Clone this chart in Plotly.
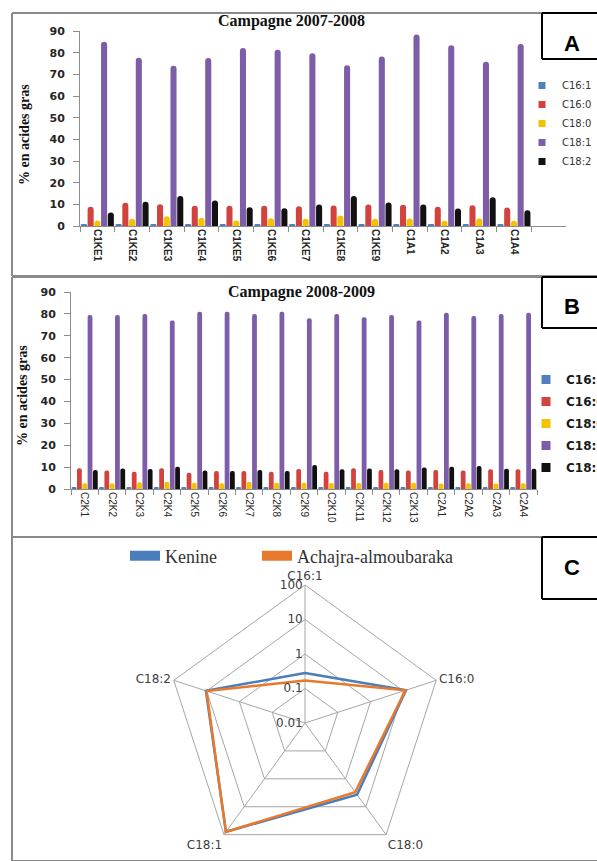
import plotly.graph_objects as go

W, H = 597, 861

# ---------------- data ----------------
series_names = ["C16:1", "C16:0", "C18:0", "C18:1", "C18:2"]
series_colors = ["#4f81bd", "#d2433e", "#f5c200", "#7d5ca8", "#111111"]

cats_A = ["C1KE1", "C1KE2", "C1KE3", "C1KE4", "C1KE5", "C1KE6", "C1KE7",
          "C1KE8", "C1KE9", "C1A1", "C1A2", "C1A3", "C1A4"]
c16_1_A = [0.6, 0.7, 0.6, 0.6, 0.7, 0.6, 0.6, 0.7, 0.6, 0.6, 0.6, 0.7, 0.6]
c16_0_A = [8.9, 10.7, 10.0, 9.4, 9.4, 9.4, 9.1, 9.5, 9.9, 9.8, 8.9, 9.6, 8.5]
c18_0_A = [2.5, 3.3, 4.5, 3.8, 2.5, 3.6, 3.3, 4.8, 3.3, 3.5, 2.4, 3.5, 2.4]
c18_1_A = [85.0, 77.7, 74.0, 77.5, 82.2, 81.3, 79.7, 74.2, 78.2, 88.4, 83.4, 75.8, 84.0]
c18_2_A = [6.2, 11.2, 13.8, 11.8, 8.7, 8.2, 9.9, 13.8, 10.8, 9.9, 8.1, 13.3, 7.3]

cats_B = ["C2K1", "C2K2", "C2K3", "C2K4", "C2K5", "C2K6", "C2K7", "C2K8", "C2K9",
          "C2K10", "C2K11", "C2K12", "C2K13", "C2A1", "C2A2", "C2A3", "C2A4"]
c16_1_B = [0.9, 0.7, 0.7, 0.8, 0.7, 0.7, 0.9, 0.7, 0.7, 0.7, 0.7, 0.7, 0.7, 0.7, 0.7, 0.7, 0.7]
c16_0_B = [9.5, 8.4, 7.9, 9.5, 7.4, 8.2, 8.2, 7.9, 9.1, 7.9, 9.5, 8.7, 8.4, 8.7, 8.4, 9.0, 9.0]
c18_0_B = [2.6, 2.6, 3.1, 3.3, 2.9, 2.6, 3.3, 2.9, 2.8, 2.7, 2.7, 2.9, 2.9, 2.5, 2.6, 2.5, 2.6]
c18_1_B = [79.5, 79.5, 80.0, 77.0, 81.0, 81.0, 80.0, 81.0, 78.0, 80.0, 78.5, 79.5, 77.0,
           80.5, 79.0, 80.0, 80.5]
c18_2_B = [8.7, 9.4, 9.1, 10.2, 8.4, 8.2, 8.7, 8.2, 11.0, 9.0, 9.4, 9.0, 9.8, 10.2, 10.5, 9.3, 9.3]

acids_C = ["C16:1", "C16:0", "C18:0", "C18:1", "C18:2"]
kenine_C = [0.28, 12.0, 3.7, 79.0, 10.5]
achajra_C = [0.17, 11.5, 3.0, 80.0, 10.0]

y_ticks = [0, 10, 20, 30, 40, 50, 60, 70, 80, 90]
r_ticks = [0.01, 0.1, 1, 10, 100]
r_ticklabels = ["0.01", "0.1", "1", "10", "100"]


def fx(px):
    return px / W


def fy(py):
    return 1 - py / H


fig = go.Figure()

series_A = [c16_1_A, c16_0_A, c18_0_A, c18_1_A, c18_2_A]
series_B = [c16_1_B, c16_0_B, c18_0_B, c18_1_B, c18_2_B]

for name, col, vals in zip(series_names, series_colors, series_A):
    fig.add_trace(go.Bar(x=cats_A, y=vals, name=name, marker=dict(color=col, cornerradius=3,
                         line=dict(width=0)), xaxis="x", yaxis="y", showlegend=False))
    fig.add_trace(go.Scatter(x=[None], y=[None], mode="markers", name=name,
                             marker=dict(symbol="square", size=7, color=col),
                             xaxis="x", yaxis="y", legend="legend"))

for name, col, vals in zip(series_names, series_colors, series_B):
    fig.add_trace(go.Bar(x=cats_B, y=vals, name=name, marker=dict(color=col, cornerradius=3,
                         line=dict(width=0)), xaxis="x2", yaxis="y2", showlegend=False))
    fig.add_trace(go.Scatter(x=[None], y=[None], mode="markers", name=name,
                             marker=dict(symbol="square", size=9, color=col),
                             xaxis="x2", yaxis="y2", legend="legend2",
                             legendgroup="B" + name))

kc, ac = "#4a7ebb", "#e8792c"
fig.add_trace(go.Scatterpolar(r=kenine_C + kenine_C[:1], theta=acids_C + acids_C[:1],
                              mode="lines", name="Kenine", line=dict(color=kc, width=2.5),
                              subplot="polar", showlegend=False))
fig.add_trace(go.Scatterpolar(r=achajra_C + achajra_C[:1], theta=acids_C + acids_C[:1],
                              mode="lines", name="Achajra-almoubaraka",
                              line=dict(color=ac, width=2.5),
                              subplot="polar", showlegend=False))
for name, col, lg in [("Kenine", kc, "legend3"), ("Achajra-almoubaraka", ac, "legend4")]:
    fig.add_trace(go.Scatterpolar(r=[None], theta=[None], mode="lines", name=name,
                                  line=dict(color=col, width=12), subplot="polar",
                                  legend=lg))

axis_grey = "#8c8c8c"
tick_font_y = dict(family="DejaVu Sans", size=11, color="#262626", weight="bold")
tick_font_x = dict(family="Liberation Sans", size=10, color="#262626", weight="bold")

R = 138
cy = H - R
cx = 305

leg3_font = dict(family="Liberation Serif", size=18, color="#333333")

fig.update_layout(
    width=W, height=H, autosize=False,
    margin=dict(l=0, r=0, t=0, b=0, pad=0, autoexpand=False),
    paper_bgcolor="white", plot_bgcolor="rgba(0,0,0,0)",
    barmode="group", bargap=0.03, bargroupgap=0.1,
    xaxis=dict(domain=[fx(80), fx(566)], anchor="y", type="category", range=[-0.5, 13.5],
               showline=True, linecolor=axis_grey, linewidth=1, ticks="outside",
               tickson="boundaries", ticklen=5, tickcolor=axis_grey, tickangle=90,
               tickfont=tick_font_x, showgrid=False, zeroline=False, automargin=False),
    yaxis=dict(domain=[fy(226), fy(31)], anchor="x", range=[0, 90], tickvals=y_ticks,
               showline=True, linecolor=axis_grey, linewidth=1, ticks="outside", ticklen=6,
               tickcolor=axis_grey, tickfont=tick_font_y, showgrid=False, zeroline=False,
               ticklabelstandoff=6, automargin=False),
    xaxis2=dict(domain=[fx(71), fx(537)], anchor="y2", type="category", range=[-0.5, 16.5],
                showline=True, linecolor=axis_grey, linewidth=1, ticks="outside",
                tickson="boundaries", ticklen=5, tickcolor=axis_grey, tickangle=90,
                tickfont=dict(family="Liberation Sans", size=10, color="#262626"),
                showgrid=False, zeroline=False, automargin=False),
    yaxis2=dict(domain=[fy(489), fy(292)], anchor="x2", range=[0, 90], tickvals=y_ticks,
                showline=True, linecolor=axis_grey, linewidth=1, ticks="outside", ticklen=6,
                tickcolor=axis_grey, tickfont=tick_font_y, showgrid=False, zeroline=False,
                ticklabelstandoff=6, automargin=False),
    polar=dict(
        domain=dict(x=[fx(cx - R), fx(cx + R)], y=[0, fy(H - 2 * R)]),
        bgcolor="rgba(0,0,0,0)", gridshape="linear",
        radialaxis=dict(type="log", range=[-2, 2], tickvals=r_ticks, ticktext=r_ticklabels,
                        angle=90, tickangle=90, side="counterclockwise", showline=False,
                        ticks="", gridcolor="#a6a6a6", gridwidth=1,
                        tickfont=dict(family="DejaVu Sans", size=12, color="#404040")),
        angularaxis=dict(type="category", categoryarray=acids_C, direction="clockwise",
                         rotation=90, showline=True, linecolor="#a6a6a6", linewidth=1,
                         gridcolor="#a6a6a6", ticks="",
                         tickfont=dict(family="DejaVu Sans", size=12, color="#404040")),
    ),
    legend=dict(x=fx(522), y=fy(71), xanchor="left", yanchor="top",
                font=dict(family="DejaVu Sans", size=10, color="#333333"),
                bgcolor="rgba(0,0,0,0)", itemwidth=30, tracegroupgap=0),
    legend2=dict(x=fx(526), y=fy(365), xanchor="left", yanchor="top",
                 font=dict(family="DejaVu Sans", size=12, color="#1a1a1a", weight="bold"),
                 bgcolor="rgba(0,0,0,0)", itemwidth=30, tracegroupgap=3),
    legend3=dict(x=fx(125), y=fy(556), xanchor="left", yanchor="middle", orientation="h",
                 font=leg3_font, bgcolor="rgba(0,0,0,0)", itemwidth=30),
    legend4=dict(x=fx(257), y=fy(556), xanchor="left", yanchor="middle", orientation="h",
                 font=leg3_font, bgcolor="rgba(0,0,0,0)", itemwidth=30),
    showlegend=True,
)

annotations = [
    dict(text="<b>Campagne 2007-2008</b>", x=fx(291), y=fy(21),
         font=dict(family="Liberation Serif", size=16, color="#111111")),
    dict(text="<b>Campagne 2008-2009</b>", x=fx(301), y=fy(292),
         font=dict(family="Liberation Serif", size=16, color="#111111")),
    dict(text="<b>% en acides gras</b>", x=fx(24), y=fy(135), textangle=-90,
         font=dict(family="Liberation Serif", size=14, color="#111111")),
    dict(text="<b>% en acides gras</b>", x=fx(22), y=fy(396), textangle=-90,
         font=dict(family="Liberation Serif", size=14, color="#111111")),
]
for letter, py in [("A", 43), ("B", 307), ("C", 567)]:
    annotations.append(dict(text="<b>" + letter + "</b>", x=fx(572), y=fy(py),
                            font=dict(family="Liberation Sans", size=22, color="black")))
for a in annotations:
    a.update(xref="paper", yref="paper", showarrow=False, xanchor="center", yanchor="middle")
fig.update_layout(annotations=annotations)


def open_box(x0, y0, y1, color, width):
    # top, left and bottom edges; the right side runs off the page
    return [
        dict(type="line", xref="paper", yref="paper", x0=fx(x0), x1=1, y0=fy(y0), y1=fy(y0),
             line=dict(color=color, width=width)),
        dict(type="line", xref="paper", yref="paper", x0=fx(x0), x1=fx(x0), y0=fy(y0),
             y1=max(fy(y1), 0), line=dict(color=color, width=width)),
        dict(type="line", xref="paper", yref="paper", x0=fx(x0), x1=1, y0=fy(y1), y1=fy(y1),
             line=dict(color=color, width=width)),
    ]


shapes = []
for y0, y1 in [(13, 276), (277, 537), (537, 861)]:
    shapes += open_box(12, y0, y1, "#8a8a8a", 2)
for y0, y1 in [(13, 59), (277, 328), (537, 599)]:
    shapes += open_box(542, y0, y1, "black", 2)
fig.update_layout(shapes=shapes)

fig.write_html("out.html", config={"responsive": False, "displayModeBar": False},
               post_script="document.body.style.margin='0';")
